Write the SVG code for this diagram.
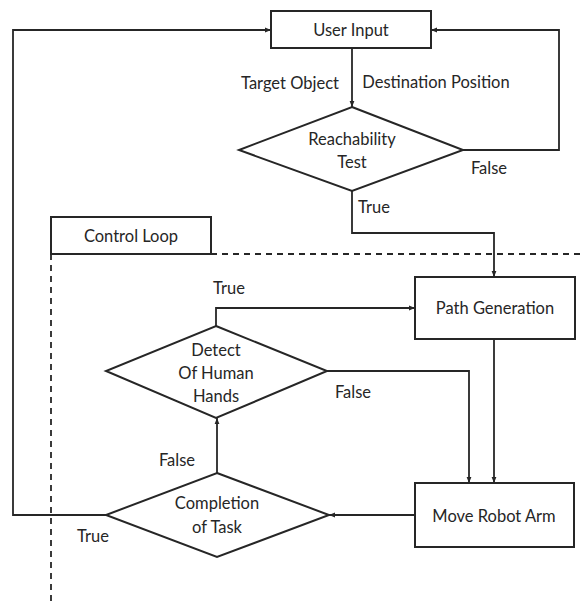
<svg xmlns="http://www.w3.org/2000/svg" width="580" height="603" viewBox="0 0 580 603">
<defs>
<style>
text{font-family:Lato,"Open Sans","Liberation Sans",sans-serif;font-size:16.5px;fill:#262626;text-anchor:middle;dominant-baseline:central}
.box{fill:#fff;stroke:#262626;stroke-width:2}
.con{fill:none;stroke:#262626;stroke-width:1.8}
.dash{fill:none;stroke:#262626;stroke-width:1.8;stroke-dasharray:6 5}
</style>
<marker id="ah" viewBox="0 0 10 10" refX="10" refY="5" markerWidth="6" markerHeight="6" markerUnits="userSpaceOnUse" orient="auto">
<path d="M0,1 L10,5 L0,9 z" fill="#262626"/>
</marker>
</defs>
<rect width="580" height="603" fill="#fff"/>
<g id="control-loop">
<path class="dash" d="M211,254 H580"/>
<path class="dash" d="M51,254 V603"/>
<rect class="box" x="51" y="217" width="160" height="37"/>
<text x="131" y="236">Control Loop</text>
</g>
<g id="connectors">
<path class="con" d="M352,48 V107" marker-end="url(#ah)"/>
<path class="con" d="M463,150 H559 V30 H431" marker-end="url(#ah)"/>
<path class="con" d="M352,191 V233 H494 V277" marker-end="url(#ah)"/>
<path class="con" d="M216,326 V308 H415" marker-end="url(#ah)"/>
<path class="con" d="M327,371 H469 V483" marker-end="url(#ah)"/>
<path class="con" d="M494,339 V483" marker-end="url(#ah)"/>
<path class="con" d="M415,515 H329" marker-end="url(#ah)"/>
<path class="con" d="M217,473 V418" marker-end="url(#ah)"/>
<path class="con" d="M106,515 H13 V30 H271" marker-end="url(#ah)"/>
<text x="290" y="83">Target Object</text>
<text x="436" y="82">Destination Position</text>
<text x="489" y="168">False</text>
<text x="374" y="207">True</text>
<text x="229" y="288">True</text>
<text x="353" y="392">False</text>
<text x="177" y="460">False</text>
<text x="93" y="536">True</text>
</g>
<g id="user-input">
<rect class="box" x="271" y="11" width="160" height="37"/>
<text x="351" y="30">User Input</text>
</g>
<g id="reachability-test">
<path class="box" d="M352,107 L463,150 L352,191 L239,150 z"/>
<text x="352" y="139">Reachability</text>
<text x="352" y="162">Test</text>
</g>
<g id="path-generation">
<rect class="box" x="415" y="277" width="160" height="62"/>
<text x="495" y="308">Path Generation</text>
</g>
<g id="detect-human-hands">
<path class="box" d="M216,326 L327,371 L216,418 L106,371 z"/>
<text x="216" y="350">Detect</text>
<text x="216" y="373">Of Human</text>
<text x="216" y="396">Hands</text>
</g>
<g id="move-robot-arm">
<rect class="box" x="415" y="483" width="159" height="64"/>
<text x="494" y="516">Move Robot Arm</text>
</g>
<g id="completion-of-task">
<path class="box" d="M217,473 L329,515 L217,557 L106,515 z"/>
<text x="217" y="503">Completion</text>
<text x="217" y="527">of Task</text>
</g>
</svg>
